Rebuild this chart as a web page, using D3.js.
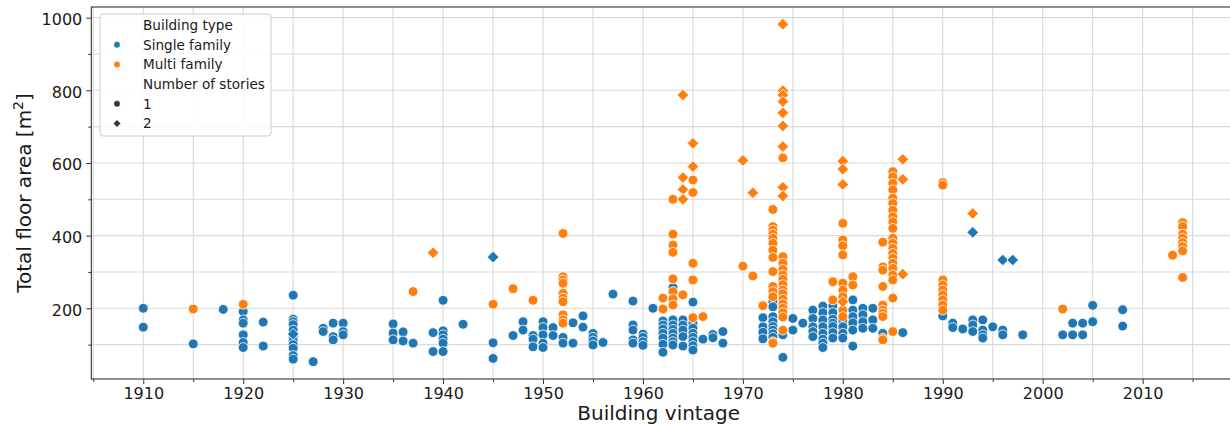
<!DOCTYPE html>
<html>
<head>
<meta charset="utf-8">
<script src="https://cdn.jsdelivr.net/npm/d3@7"></script>
<style>
  html, body { margin: 0; padding: 0; background: #fff; }
  svg { display: block; font-family: "DejaVu Sans", sans-serif; }
</style>
</head>
<body>
<svg id="chart" width="1230" height="425"></svg>
<script>
// Floor area (m²) per building, grouped by vintage year.
// Single family, one story
const singleOneStory = [
  [1910, [200, 148]], [1915, [102]], [1918, [197]],
  [1920, [191, 168, 159, 127, 106, 92]], [1922, [162, 96]],
  [1925, [236, 170, 163, 155, 140, 120, 110, 100, 90, 70, 60]],
  [1927, [53]], [1928, [145, 136]], [1929, [159, 122, 113]], [1930, [159, 136, 127]],
  [1935, [157, 132, 113]], [1936, [135, 110]], [1937, [104]], [1939, [133, 81]],
  [1940, [222, 138, 127, 115, 104, 81]], [1942, [156]], [1945, [105, 62]],
  [1947, [125]], [1948, [163, 140]], [1949, [125, 115, 94]],
  [1950, [163, 147, 127, 104, 92]], [1951, [147, 125]], [1952, [120, 104]],
  [1953, [160, 104]], [1954, [179, 148]], [1955, [131, 120, 110, 99]],
  [1956, [106]], [1957, [239]], [1959, [220, 154, 140, 113, 104]],
  [1960, [129, 120, 108, 98]], [1961, [200]],
  [1962, [165, 154, 143, 131, 118, 101, 79]],
  [1963, [257, 168, 154, 142, 131, 118, 108, 99]],
  [1964, [168, 154, 140, 122, 96]],
  [1965, [217, 159, 145, 131, 120, 108, 97, 85]],
  [1966, [115]], [1967, [128, 119]], [1968, [136, 104]],
  [1972, [174, 149, 134, 116]],
  [1973, [218, 204, 177, 163, 150, 140, 130, 120]],
  [1974, [127, 65]], [1975, [172, 140]], [1976, [159]],
  [1977, [195, 172, 149, 136, 122]],
  [1978, [206, 188, 168, 149, 131, 115, 104, 92]],
  [1979, [207, 188, 170, 159, 150, 133, 118]],
  [1980, [168, 149, 131, 118]], [1981, [223, 195, 177, 160, 140, 96]],
  [1982, [200, 182, 163, 145]], [1983, [200, 168, 145]], [1984, [131]],
  [1986, [133]], [1990, [179]], [1991, [159, 147]], [1992, [143]],
  [1993, [168, 154, 136]], [1994, [168, 140, 127, 118]], [1995, [149]],
  [1996, [140, 127]], [1998, [127]], [2002, [127]], [2003, [159, 127]],
  [2004, [159, 127]], [2005, [208, 163]], [2008, [196, 151]]
];

// Single family, two stories
const singleTwoStory = [
  [1925, [129]], [1945, [341]], [1993, [409]], [1996, [333]], [1997, [333]]
];

// Multi family, one story
const multiOneStory = [
  [1915, [198]], [1920, [211]], [1937, [246]], [1945, [211]], [1947, [254]], [1949, [222]],
  [1952, [406, 287, 278, 269, 241, 228, 218, 182, 168, 159]],
  [1962, [228, 198]],
  [1963, [500, 404, 374, 354, 281, 246, 226, 209]],
  [1964, [237]], [1965, [553, 519, 324, 278, 174]], [1966, [177]],
  [1970, [316]], [1971, [289]], [1972, [207]],
  [1973, [472, 425, 415, 404, 393, 379, 360, 340, 301, 260, 246, 232, 108, 104]],
  [1974, [614, 342, 324, 307, 292, 280, 265, 250, 240, 225, 212, 200, 188, 176, 140]],
  [1979, [273, 223]],
  [1980, [434, 388, 372, 347, 269, 250, 232, 195, 177]],
  [1981, [287, 264]],
  [1984, [382, 314, 305, 260, 209, 195, 186, 177, 118, 113]],
  [1985, [576, 562, 544, 526, 503, 489, 470, 452, 438, 420, 393, 379, 365, 351, 338, 324, 310, 292, 278, 228, 136]],
  [1990, [546, 539, 278, 264, 250, 237, 223, 209, 195]],
  [2002, [198]], [2013, [346]],
  [2014, [436, 425, 404, 393, 381, 370, 358, 285]]
];

// Multi family, two stories
const multiTwoStory = [
  [1939, [353]], [1964, [787, 560, 527, 500]], [1965, [654, 590]],
  [1970, [607]], [1971, [518]],
  [1974, [982, 799, 787, 769, 738, 702, 645, 533, 509]],
  [1980, [605, 583, 541, 218]], [1986, [610, 555, 294]], [1993, [461]]
];

const xMajorTicks = [1910, 1920, 1930, 1940, 1950, 1960, 1970, 1980, 1990, 2000, 2010];
const yMajorTicks = [200, 400, 600, 800, 1000];

const typeLabels = ["Single family", "Multi family"];
const storyLabels = ["1", "2"];

const colors = { single: "#1f77b4", multi: "#ff7f0e" };

const svg = d3.select("#chart");

const plot = { left: 91.3, right: 1234.6, top: 7, bottom: 379 };

const x = d3.scaleLinear().domain([1904.8, 2019.2]).range([plot.left, plot.right]);
const y = d3.scaleLinear().domain([5.4, 1029.3]).range([plot.bottom, plot.top]);

// gridlines every 5 years / 100 m²
const xGrid = d3.range(1905, 2020, 5);
const yGrid = d3.range(100, 1001, 100);

const grid = svg.append("g");
grid.selectAll("line.gx").data(xGrid).enter().append("line")
  .attr("x1", d => x(d)).attr("x2", d => x(d))
  .attr("y1", plot.top).attr("y2", plot.bottom)
  .attr("stroke", "#d9d9d9").attr("stroke-width", 1.1);
grid.selectAll("line.gy").data(yGrid).enter().append("line")
  .attr("x1", plot.left).attr("x2", plot.right)
  .attr("y1", d => y(d)).attr("y2", d => y(d))
  .attr("stroke", "#d9d9d9").attr("stroke-width", 1.1);

// axes
const xAxis = d3.axisBottom(x).tickValues(xMajorTicks).tickFormat(d3.format("d")).tickSize(5).tickPadding(4);
const xMinor = d3.axisBottom(x).tickValues(xGrid.filter(d => d % 10 !== 0)).tickFormat("").tickSize(3);
const yAxis = d3.axisLeft(y).tickValues(yMajorTicks).tickFormat(d3.format("d")).tickSize(5).tickPadding(4);
const yMinor = d3.axisLeft(y).tickValues(yGrid.filter(d => d % 200 !== 0)).tickFormat("").tickSize(3);

function styleAxis(g) {
  g.select(".domain").remove();
  g.selectAll(".tick line").attr("stroke", "#333").attr("stroke-width", 1);
  g.selectAll(".tick text").attr("fill", "#1a1a1a").style("font-size", "16px")
    .style("font-family", "DejaVu Sans, sans-serif");
}

svg.append("g").attr("transform", `translate(0,${plot.bottom})`).call(xAxis).call(styleAxis);
svg.append("g").attr("transform", `translate(0,${plot.bottom})`).call(xMinor).call(styleAxis);
svg.append("g").attr("transform", `translate(${plot.left},0)`).call(yAxis).call(styleAxis)
  .selectAll(".tick text").attr("dy", "0.42em");
svg.append("g").attr("transform", `translate(${plot.left},0)`).call(yMinor).call(styleAxis);

// frame
svg.append("rect")
  .attr("x", plot.left).attr("y", plot.top)
  .attr("width", plot.right - plot.left).attr("height", plot.bottom - plot.top)
  .attr("fill", "none").attr("stroke", "#333").attr("stroke-width", 1.1);

// points
const flatten = rows => rows.flatMap(([yr, vals]) => vals.map(v => ({ year: yr, area: v })));

const circleR = 4.9;
const diamond = d3.symbol().type(d3.symbolSquare).size(68);

const marks = svg.append("g");

function drawCircles(rows, color) {
  marks.append("g").selectAll("circle").data(flatten(rows)).enter().append("circle")
    .attr("cx", d => x(d.year)).attr("cy", d => y(d.area)).attr("r", circleR)
    .attr("fill", color).attr("stroke", "#fff").attr("stroke-width", 0.8);
}
function drawDiamonds(rows, color) {
  marks.append("g").selectAll("path").data(flatten(rows)).enter().append("path")
    .attr("d", diamond)
    .attr("transform", d => `translate(${x(d.year)},${y(d.area)}) rotate(45)`)
    .attr("fill", color).attr("stroke", "#fff").attr("stroke-width", 0.8);
}

drawCircles(singleOneStory, colors.single);
drawCircles(multiOneStory, colors.multi);
drawDiamonds(singleTwoStory, colors.single);
drawDiamonds(multiTwoStory, colors.multi);

// axis titles
svg.append("text")
  .attr("x", (plot.left + 1230) / 2 - 2).attr("y", 420)
  .attr("text-anchor", "middle").style("font-size", "20px").attr("fill", "#1a1a1a")
  .text("Building vintage");

const yTitle = svg.append("text")
  .attr("transform", `translate(31,${(plot.top + plot.bottom) / 2}) rotate(-90)`)
  .attr("text-anchor", "middle").style("font-size", "20px").attr("fill", "#1a1a1a");
yTitle.append("tspan").text("Total floor area [m");
yTitle.append("tspan").attr("baseline-shift", "super").style("font-size", "14px").text("2");
yTitle.append("tspan").text("]");

// legend
const legend = svg.append("g").attr("transform", "translate(100,14)");
legend.append("rect")
  .attr("x", 0).attr("y", 0).attr("width", 171).attr("height", 122).attr("rx", 3)
  .attr("fill", "#fff").attr("fill-opacity", 0.85)
  .attr("stroke", "#cccccc").attr("stroke-width", 1);

const rowY = i => 11 + i * 19.7;
const legendRows = [
  { label: "Building type", marker: null },
  { label: typeLabels[0], marker: "circle", color: colors.single },
  { label: typeLabels[1], marker: "circle", color: colors.multi },
  { label: "Number of stories", marker: null },
  { label: storyLabels[0], marker: "circle", color: "#333" },
  { label: storyLabels[1], marker: "diamond", color: "#333" }
];
legendRows.forEach((r, i) => {
  const cy = rowY(i);
  if (r.marker === "circle") {
    legend.append("circle").attr("cx", 17).attr("cy", cy).attr("r", 3.2)
      .attr("fill", r.color).attr("stroke", "#fff").attr("stroke-width", 0.5);
  } else if (r.marker === "diamond") {
    legend.append("path").attr("d", d3.symbol().type(d3.symbolSquare).size(28))
      .attr("transform", `translate(17,${cy}) rotate(45)`)
      .attr("fill", r.color).attr("stroke", "#fff").attr("stroke-width", 0.5);
  }
  legend.append("text").attr("x", 43).attr("y", cy).attr("dy", "0.36em")
    .style("font-size", "13.6px").attr("fill", "#1a1a1a").text(r.label);
});
</script>
</body>
</html>
